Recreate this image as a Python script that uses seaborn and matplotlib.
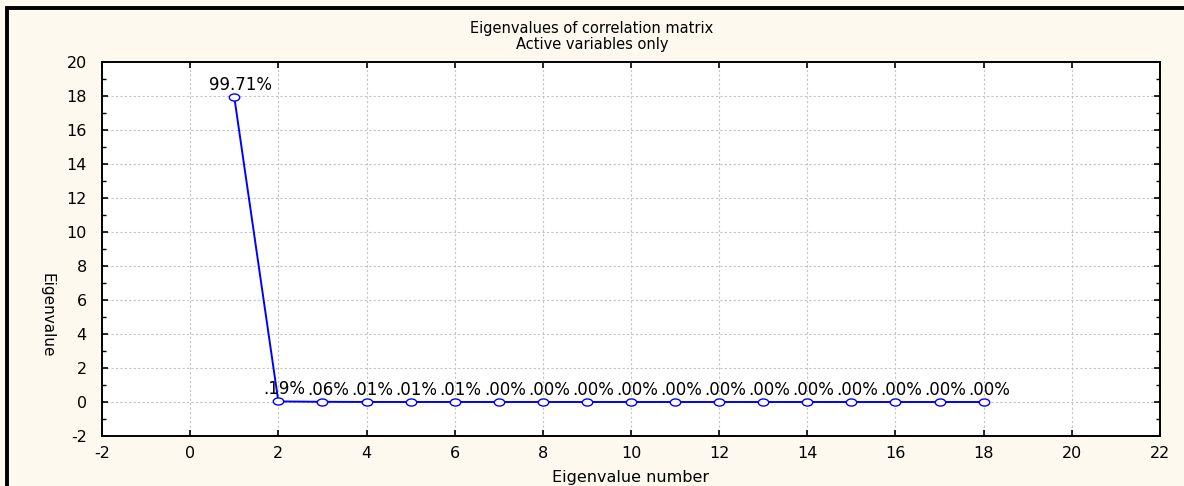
import numpy as np
import pandas as pd
import matplotlib
matplotlib.use("Agg")
import matplotlib.pyplot as plt
from matplotlib.path import Path
from matplotlib.patches import Rectangle
import seaborn as sns

# eigenvalues of the correlation matrix (18 active variables)
eig_number = list(range(1, 19))
eigenvalues = [17.948, 0.034, 0.011, 0.002, 0.0018, 0.0014, 0.0005, 0.0004, 0.0003,
               0.0002, 0.0002, 0.0001, 0.0001, 0.0001, 0.00005, 0.00003, 0.00002, 0.00001]

title_lines = ["Eigenvalues of correlation matrix", "Active variables only"]
x_label = "Eigenvalue number"
y_label = "Eigenvalue"

df = pd.DataFrame({"number": eig_number, "eigenvalue": eigenvalues})
total = df["eigenvalue"].sum()
df["pct"] = df["eigenvalue"] / total * 100


def pct_label(p):
    s = f"{p:.2f}%"
    return s[1:] if s.startswith("0.") else s


sns.set_style("ticks")
plt.rcParams["font.family"] = ["DejaVu Sans"]
plt.rcParams["axes.unicode_minus"] = False
plt.rcParams["text.color"] = "black"
plt.rcParams["axes.labelcolor"] = "black"
plt.rcParams["xtick.color"] = "black"
plt.rcParams["ytick.color"] = "black"

fig = plt.figure(figsize=(11.84, 4.86), dpi=100)
fig.patch.set_facecolor("#FDF9EE")
ax = fig.add_axes([102 / 1184, 1 - 436 / 486, (1160 - 102) / 1184, (436 - 62) / 486])
ax.set_facecolor("white")

# flattened open circle marker
circ = Path.unit_circle()
ell = Path(circ.vertices * np.array([1.0, 0.68]), circ.codes)

sns.lineplot(data=df, x="number", y="eigenvalue", ax=ax, color="#0000FF", linewidth=1.4,
             marker=ell, markersize=7.5, markerfacecolor="white",
             markeredgecolor="#0000FF", markeredgewidth=1.0)

for _, r in df.iterrows():
    ax.annotate(pct_label(r["pct"]), (r["number"], r["eigenvalue"]),
                xytext=(6, 12), textcoords="offset pixels",
                ha="center", va="center", fontsize=12, color="black")

ax.set_xlim(-2, 22)
ax.set_ylim(-2, 20)
ax.set_xticks(range(-2, 23, 2))
ax.set_yticks(range(-2, 21, 2))
ax.set_yticks(range(-1, 20, 2), minor=True)
ax.grid(True, which="major", color="#C4C4C4", linestyle=(0, (2, 2)), linewidth=0.8)
ax.tick_params(which="both", direction="in", top=True, right=True, color="black")
ax.tick_params(which="major", length=4, width=1.2, labelsize=11.5, labelcolor="black")
ax.tick_params(which="minor", length=3, width=1)
ax.tick_params(axis="x", pad=7)
ax.tick_params(axis="y", pad=11)
for s in ax.spines.values():
    s.set_linewidth(1.4)
    s.set_color("black")

ax.set_xlabel(x_label, fontsize=11.5, color="black")
ax.xaxis.set_label_coords(0.5, -(477 - 436) / 374)
ax.xaxis.label.set_va("center")
ax.set_ylabel(y_label, fontsize=11, rotation=270, color="black")
ax.yaxis.set_label_coords(-(102 - 47) / 1058, (436 - 315) / 374)
ax.yaxis.label.set_va("center")

fig.text(0.5, 1 - 28 / 486, title_lines[0], ha="center", va="center", fontsize=10.5)
fig.text(0.5, 1 - 45 / 486, title_lines[1], ha="center", va="center", fontsize=10.5)

# frame (top and left edges visible)
fig.patches.append(Rectangle((7 / 1184, -0.2), 1.2, 1.2 - 8 / 486, transform=fig.transFigure,
                             fill=False, edgecolor="black", linewidth=2.8, clip_on=False))

fig.savefig("out.png", dpi=100, facecolor=fig.get_facecolor())
